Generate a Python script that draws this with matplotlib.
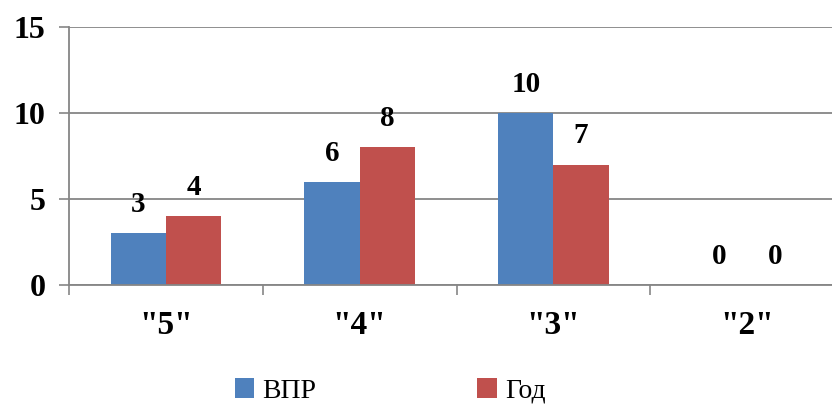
import matplotlib
matplotlib.use("Agg")
import matplotlib.pyplot as plt
import numpy as np

categories = ['"5"', '"4"', '"3"', '"2"']
vpr = [3, 6, 10, 0]
god = [4, 8, 7, 0]
series_names = ["ВПР", "Год"]
yticks = [0, 5, 10, 15]

BLUE = "#4F81BD"
RED = "#C0504D"
GRID = "#868686"

plt.rcParams["font.family"] = ["Liberation Serif", "DejaVu Serif"]

fig = plt.figure(figsize=(8.32, 4.05), dpi=100)
ax = fig.add_axes([69 / 832, 1 - 285 / 405, (844 - 69) / 832, (285 - 27) / 405])

x = np.arange(len(categories))
w = 0.285
b1 = ax.bar(x - w / 2, vpr, w, color=BLUE, label=series_names[0])
b2 = ax.bar(x + w / 2, god, w, color=RED, label=series_names[1])

for bars, vals in [(b1, vpr), (b2, god)]:
    for rect, v in zip(bars, vals):
        ax.annotate(str(v), (rect.get_x() + rect.get_width() / 2, v),
                    xytext=(0, 11), textcoords="offset points",
                    ha="center", va="bottom", fontsize=21, fontweight="bold")

ax.set_xlim(-0.5, len(categories) - 0.5)
ax.set_ylim(0, 15)
ax.set_yticks(yticks)
ax.set_yticklabels([str(t) for t in yticks], fontsize=23, fontweight="bold")
ax.set_xticks(x)
ax.set_xticklabels(categories, fontsize=24, fontweight="bold")
ax.set_xticks(np.arange(len(categories) + 1) - 0.5, minor=True)
ax.tick_params(axis="x", which="major", length=0, pad=18)
ax.tick_params(axis="x", which="minor", length=7, color=GRID, width=1.2)
ax.tick_params(axis="y", length=7, color=GRID, width=1.2, pad=10)

ax.yaxis.grid(True, color=GRID, linewidth=1.3)
ax.set_axisbelow(True)
for side in ["top", "right"]:
    ax.spines[side].set_visible(False)
for side in ["left", "bottom"]:
    ax.spines[side].set_color(GRID)
    ax.spines[side].set_linewidth(1.3)

fig.legend(handles=[b1, b2], labels=series_names, loc="center",
           bbox_to_anchor=(0.469, 1 - 391 / 405), ncol=2, frameon=False,
           prop={"size": 20}, handlelength=0.7, handleheight=0.7,
           columnspacing=5.8, handletextpad=0.3, borderpad=0)

fig.savefig("out.png", dpi=100)
